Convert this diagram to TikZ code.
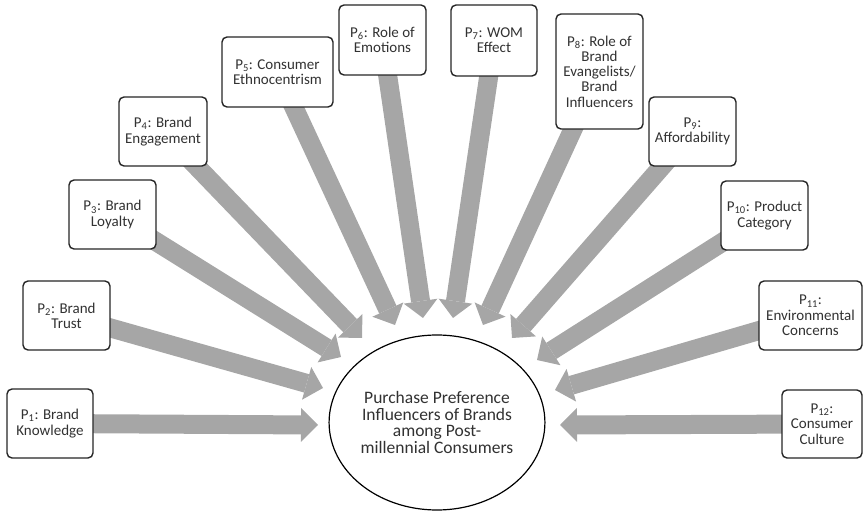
\documentclass[tikz,border=0pt]{standalone}
\usepackage{fontspec}
\setmainfont{Carlito}
\usetikzlibrary{arrows.meta,backgrounds,shapes.geometric}

\definecolor{flowgray}{RGB}{166,166,166}
\definecolor{inkgray}{RGB}{50,50,50}

\tikzset{
  pbox/.style={draw=black!85, line width=1.4pt, rounded corners=5pt, fill=white,
    align=center, inner sep=0pt, text=inkgray,
    font=\fontsize{15}{15.3}\selectfont},
  core/.style={ellipse, draw=black, line width=1.2pt, fill=white, align=center,
    inner sep=0pt, minimum width=208pt, minimum height=175pt, text=inkgray,
    font=\fontsize{17.5}{16.8}\selectfont},
  flow/.style={draw=flowgray, line width=19pt,
    -{Triangle[width=34pt,length=17pt,line width=0pt]}},
}

\begin{document}
\begin{tikzpicture}[x=1pt,y=-1pt]
  \useasboundingbox (0,0) rectangle (863,513);

  % central construct
  \node[core] (c) at (437,422.5) {Purchase Preference\\Influencers of Brands\\among Post-\\millennial Consumers};

  % propositions
  \node[pbox, minimum width=86pt, minimum height=69pt]  (p1)  at (50,423.5)  {P\textsubscript{1}: Brand\\Knowledge};
  \node[pbox, minimum width=87pt, minimum height=69pt]  (p2)  at (66.5,315.5) {P\textsubscript{2}: Brand\\Trust};
  \node[pbox, minimum width=87pt, minimum height=69pt]  (p3)  at (112.5,214.5) {P\textsubscript{3}: Brand\\Loyalty};
  \node[pbox, minimum width=88pt, minimum height=69pt]  (p4)  at (163,131.5) {P\textsubscript{4}: Brand\\Engagement};
  \node[pbox, minimum width=111pt, minimum height=70pt] (p5)  at (277.5,72)  {P\textsubscript{5}: Consumer\\Ethnocentrism};
  \node[pbox, minimum width=87pt, minimum height=70pt]  (p6)  at (382.5,40)  {P\textsubscript{6}: Role of\\Emotions};
  \node[pbox, minimum width=86pt, minimum height=71pt]  (p7)  at (494,40.5)  {P\textsubscript{7}: WOM\\Effect};
  \node[pbox, minimum width=87pt, minimum height=115pt] (p8)  at (599.5,71.5) {P\textsubscript{8}: Role of\\Brand\\Evangelists/\\Brand\\Influencers};
  \node[pbox, minimum width=87pt, minimum height=69pt]  (p9)  at (692.5,131.5) {P\textsubscript{9}:\\Affordability};
  \node[pbox, minimum width=87pt, minimum height=69pt]  (p10) at (764.5,215.5) {P\textsubscript{10}: Product\\Category};
  \node[pbox, minimum width=103pt, minimum height=69pt] (p11) at (810.5,315.5) {P\textsubscript{11}:\\Environmental\\Concerns};
  \node[pbox, minimum width=80pt, minimum height=68pt]  (p12) at (822,424)   {P\textsubscript{12}:\\Consumer\\Culture};

  % arrow tips around the construct
  \coordinate (t1)  at (318,425);
  \coordinate (t2)  at (323,388);
  \coordinate (t3)  at (341,357);
  \coordinate (t4)  at (362,338);
  \coordinate (t5)  at (395,325);
  \coordinate (t6)  at (423,318);
  \coordinate (t7)  at (453,318);
  \coordinate (t8)  at (483,325);
  \coordinate (t9)  at (512,338);
  \coordinate (t10) at (537,360);
  \coordinate (t11) at (555,390);
  \coordinate (t12) at (560,425);

  \begin{scope}[on background layer]
    \foreach \i in {1,...,12}
      \draw[flow] (p\i.center) -- (t\i);
  \end{scope}
\end{tikzpicture}
\end{document}
